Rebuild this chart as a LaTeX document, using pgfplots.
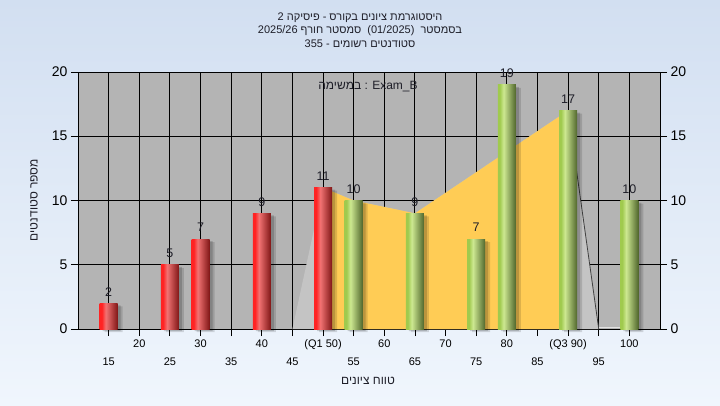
\documentclass[border=0pt]{standalone}
\usepackage{fontspec}
\setmainfont{Liberation Sans}
\newfontfamily\heb[Script=Hebrew]{Liberation Sans}
\usepackage{pgfplots}
\pgfplotsset{compat=1.18}
\TeXXeTstate=1
\definecolor{plotbg}{RGB}{180,180,180}
\definecolor{lightg}{RGB}{196,196,196}
\definecolor{yell}{RGB}{255,204,85}
\definecolor{bgtop}{RGB}{210,223,241}
\definecolor{bgbot}{RGB}{240,246,253}
\definecolor{rA}{RGB}{255,35,35}
\definecolor{rB}{RGB}{242,115,115}
\definecolor{rC}{RGB}{128,22,22}
\definecolor{gA}{RGB}{160,202,78}
\definecolor{gB}{RGB}{205,232,145}
\definecolor{gC}{RGB}{80,102,44}
\definecolor{labelc}{RGB}{30,30,40}
\pgfdeclarehorizontalshading{redbar}{100bp}{color(0bp)=(rA); color(25bp)=(rA); color(31bp)=(rA); color(42bp)=(rB); color(75bp)=(rC); color(100bp)=(rC)}
\pgfdeclarehorizontalshading{greenbar}{100bp}{color(0bp)=(gA); color(25bp)=(gA); color(30bp)=(gA); color(41bp)=(gB); color(75bp)=(gC); color(100bp)=(gC)}
\pgfplotstableread{
x y
15 2
25 5
30 7
40 9
50 11
}\redtab
\pgfplotstableread{
x y
55 10
65 9
75 7
80 19
90 17
100 10
}\greentab
\pgfplotsset{
  barbase/.style={ybar, bar width=18pt, bar shift=0pt, draw=none,
    nodes near coords, every node near coord/.append style={font=\fontsize{12.5}{14}\selectfont, text=labelc, inner sep=5pt, yshift=2pt}},
  redb/.style={barbase, /tikz/shade, shading=redbar},
  greenb/.style={barbase, /tikz/shade, shading=greenbar},
}
\begin{document}
\begin{tikzpicture}
\shade[top color=bgtop, bottom color=bgbot] (0,0) rectangle (720pt,405pt);
\begin{axis}[at={(78pt,76pt)}, anchor=south west, scale only axis,
  width=582pt, height=257pt,
  xmin=10, xmax=105, ymin=0, ymax=20, clip=false,
  axis background/.style={fill=plotbg},
  xtick={20,30,...,100},
  xticklabels={20,30,40,(Q1 50),60,70,80,(Q3 90),100},
  extra x ticks={15,25,35,45,55,65,75,85,95},
  extra x tick labels={15,25,35,45,55,65,75,85,95},
  extra x tick style={xmajorgrids=true, xticklabel style={yshift=-18pt}},
  ytick={0,5,...,20},
  xmajorgrids, ymajorgrids,
  grid style={black, line width=0.9pt},
  tick align=outside, major tick length=7pt,
  tick style={black, line width=0.8pt},
  axis line style={black, line width=0.9pt},
  xticklabel style={font=\fontsize{11}{13}\selectfont},
  yticklabel style={font=\fontsize{14}{16}\selectfont},
  /pgf/number format/assume math mode=true,
  ytick pos=left, xtick pos=bottom,
]
% quartile region
\addplot[fill=lightg, draw=none] coordinates {(45,0)(50,11)(55,10)(65,9)(90,17)(95,0)} -- cycle;
\addplot[fill=yell, draw=none] coordinates {(50,0)(50,11)(55,10)(65,9)(90,17)(90,0)} -- cycle;
\addplot[draw=black!75, line width=0.8pt] coordinates {(90,17)(95,0)};
\addplot[draw=white!60!plotbg, line width=0.6pt] coordinates {(95,0.1)(100,0.1)};
% shadows
\addplot[ybar, bar width=18pt, bar shift=3pt, yshift=-2pt, fill=black, draw=none, opacity=0.16] table {\redtab};
\addplot[ybar, bar width=18pt, bar shift=5pt, yshift=-3pt, fill=black, draw=none, opacity=0.13] table {\redtab};
\addplot[ybar, bar width=18pt, bar shift=3pt, yshift=-2pt, fill=black, draw=none, opacity=0.16] table {\greentab};
\addplot[ybar, bar width=18pt, bar shift=5pt, yshift=-3pt, fill=black, draw=none, opacity=0.13] table {\greentab};
% bars (one plot each so every bar gets its own cylinder shading)
\addplot[redb] coordinates {(15,2)};
\addplot[redb] coordinates {(25,5)};
\addplot[redb] coordinates {(30,7)};
\addplot[redb] coordinates {(40,9)};
\addplot[redb] coordinates {(50,11)};
\addplot[greenb] coordinates {(55,10)};
\addplot[greenb] coordinates {(65,9)};
\addplot[greenb] coordinates {(75,7)};
\addplot[greenb] coordinates {(80,19)};
\addplot[greenb] coordinates {(90,17)};
\addplot[greenb] coordinates {(100,10)};
\end{axis}
\begin{axis}[at={(78pt,76pt)}, anchor=south west, scale only axis,
  width=582pt, height=257pt,
  xmin=10, xmax=105, ymin=0, ymax=20,
  axis x line=none, axis y line*=right,
  ytick={0,5,...,20},
  tick align=outside, major tick length=7pt,
  tick style={black, line width=0.8pt},
  axis line style={black, line width=0.9pt},
  yticklabel style={font=\fontsize{14}{16}\selectfont},
  /pgf/number format/assume math mode=true,
]
\addplot[draw=none] coordinates {(10,0)};
\end{axis}
\node[font=\fontsize{11}{13}\selectfont\heb, text=labelc] at (360pt,387pt) {\beginR היסטוגרמת ציונים בקורס - פיסיקה 2\endR};
\node[font=\fontsize{11}{13}\selectfont\heb, text=labelc] at (360pt,374pt) {\beginR בסמסטר \ \beginL(01/2025)\endL{}\ \ סמסטר חורף \beginL2025/26\endL\endR};
\node[font=\fontsize{11}{13}\selectfont\heb, text=labelc] at (360pt,361pt) {\beginR סטודנטים רשומים - \beginL355\endL\endR};
\node[font=\fontsize{12}{14}\selectfont\heb, text=labelc] at (368pt,318pt) {במשימה : Exam\_B};
\node[font=\fontsize{12}{14}\selectfont\heb, text=labelc, rotate=90] at (34pt,205pt) {\beginR מספר סטודנטים\endR};
\node[font=\fontsize{12}{14}\selectfont\heb, text=labelc] at (368pt,24pt) {\beginR טווח ציונים\endR};
\end{tikzpicture}
\end{document}
